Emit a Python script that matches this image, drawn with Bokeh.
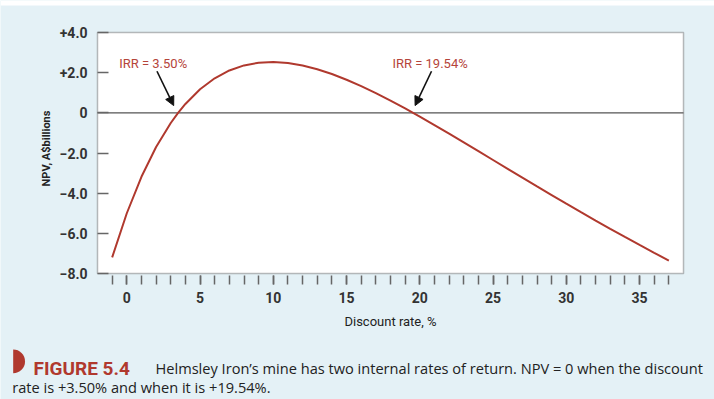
import math
from bokeh.plotting import figure
from bokeh.models import FixedTicker, Label, Arrow, NormalHead, Range1d, BoxAnnotation
from bokeh.embed import file_html
from bokeh.resources import INLINE

# Discount rate (%) and NPV (A$ billions)
rates = [-1, 0, 1, 2, 3, 3.5, 4, 5, 6, 7, 8, 9, 10, 11, 12, 13, 14, 15, 16, 17, 18, 19,
         19.54, 20, 21, 22, 23, 24, 25, 26, 27, 28, 29, 30, 31, 32, 33, 34, 35, 36, 37]
npv = [-7.199, -5.000, -3.184, -1.701, -0.505, 0.0, 0.441, 1.174, 1.721, 2.109, 2.361,
       2.496, 2.530, 2.479, 2.354, 2.169, 1.931, 1.649, 1.331, 0.984, 0.611, 0.219,
       0.0, -0.188, -0.608, -1.036, -1.470, -1.908, -2.348, -2.788, -3.227, -3.664,
       -4.096, -4.525, -4.948, -5.366, -5.777, -6.182, -6.580, -6.970, -7.354]

x_major = [0, 5, 10, 15, 20, 25, 30, 35]
x_minor = list(range(-1, 38))
y_ticks = [-8, -6, -4, -2, 0, 2, 4]
y_labels = {4: "+4.0", 2: "+2.0", 0: "0", -2: "\u22122.0", -4: "\u22124.0",
            -6: "\u22126.0", -8: "\u22128.0"}

x_title = "Discount rate, %"
y_title = "NPV, A$billions"
irr_labels = ["IRR = 3.50%", "IRR = 19.54%"]

caption_fig = "FIGURE 5.4"
caption_line1 = "Helmsley Iron\u2019s mine has two internal rates of return. NPV = 0 when the discount"
caption_line2 = "rate is +3.50% and when it is +19.54%."

BG = "#e4f1f6"
RED = "#b0392e"
FONT = "Roboto"
CAP_FONT = "Open Sans"

# Axis limits of the plotting box and where that box sits on the canvas
X_LO, X_HI, Y_LO, Y_HI = -2, 38, -8, 4
W, H = 714, 399
FL, FR, FT, FB = 97, 683, 32, 273
sx = (FR - FL) / (X_HI - X_LO)
sy = (FB - FT) / (Y_HI - Y_LO)
x_start, x_end = X_LO - FL / sx, X_HI + (W - FR) / sx
y_start, y_end = Y_LO - (H - FB) / sy, Y_HI + FT / sy


def X(px):
    return x_start + px / sx


def Y(py):
    return y_end - py / sy


p = figure(width=W, height=H, x_range=Range1d(x_start, x_end), y_range=Range1d(y_start, y_end),
           output_backend="svg", toolbar_location=None, min_border=0)
p.background_fill_color = BG
p.border_fill_color = BG
p.outline_line_color = None
p.grid.visible = False

# white strip at the very top and the white plotting box
p.add_layout(BoxAnnotation(bottom=Y(5), fill_color="white", fill_alpha=1.0, line_color=None,
                           level="underlay"))
p.add_layout(BoxAnnotation(left=X_LO, right=X_HI, bottom=Y_LO, top=Y_HI, fill_color="white",
                           fill_alpha=1.0, line_color="#222222", line_width=1.5,
                           level="underlay"))

xa = p.xaxis[0]
xa.fixed_location = Y(FB + 2)
xa.ticker = FixedTicker(ticks=x_major, minor_ticks=x_minor)
xa.axis_line_color = None
xa.major_tick_in = 0
xa.major_tick_out = 9
xa.minor_tick_in = 0
xa.minor_tick_out = 9
xa.major_tick_line_color = "#666666"
xa.minor_tick_line_color = "#666666"
xa.major_tick_line_width = 1.5
xa.minor_tick_line_width = 1.5
xa.major_label_text_font = FONT
xa.major_label_text_font_size = "14px"
xa.major_label_text_font_style = "bold"
xa.major_label_text_color = "#333333"
xa.major_label_standoff = 7

ya = p.yaxis[0]
ya.fixed_location = X_LO
ya.ticker = FixedTicker(ticks=y_ticks, minor_ticks=[])
ya.major_label_overrides = y_labels
ya.axis_line_color = None
ya.major_tick_in = 11
ya.major_tick_out = 0
ya.major_tick_line_color = "#666666"
ya.major_tick_line_width = 1.5
ya.major_label_text_font = FONT
ya.major_label_text_font_size = "14px"
ya.major_label_text_font_style = "bold"
ya.major_label_text_color = "#333333"
ya.major_label_standoff = 10

# axis titles, centred on the plotting box
p.add_layout(Label(x=(X_LO + X_HI) / 2, y=Y(321), text=x_title, text_align="center",
                   text_baseline="middle", text_font=FONT, text_font_size="13px",
                   text_color="#222222"))
p.add_layout(Label(x=X(46), y=Y(148), text=y_title, text_align="center", angle=math.pi / 2,
                   text_baseline="middle", text_font=FONT, text_font_size="11px",
                   text_font_style="bold", text_color="#222222"))

# zero line across the plotting box
p.segment(x0=[X_LO], y0=[0], x1=[X_HI], y1=[0], line_color="#555555", line_width=1.3)

p.line(rates, npv, line_color=RED, line_width=2)

# IRR annotations with arrows pointing at the zero crossings
label_pos = [(1.8, 2.45), (20.7, 2.45)]
arrow_start = [(2.06, 2.07), (20.8, 2.07)]
arrow_end = [(3.2, 0.36), (19.68, 0.36)]
for txt, (lx, ly), (ax0, ay0), (ax1, ay1) in zip(irr_labels, label_pos, arrow_start, arrow_end):
    p.add_layout(Label(x=lx, y=ly, text=txt, text_align="center", text_baseline="middle",
                       text_color="#b5443a", text_font=FONT, text_font_size="13px"))
    p.add_layout(Arrow(end=NormalHead(size=9, fill_color="#111111", line_color="#111111"),
                       x_start=ax0, y_start=ay0, x_end=ax1, y_end=ay1,
                       line_color="#111111", line_width=1.6))

# Caption
p.wedge(x=[X(12.7)], y=[Y(360.9)], radius=11.8, radius_units="screen",
        start_angle=-math.pi / 2, end_angle=math.pi / 2, fill_color=RED, line_color=None)
p.add_layout(Label(x=X(33), y=Y(367.7), text=caption_fig, text_color=RED, text_font=FONT,
                   text_font_size="19px", text_font_style="bold", text_baseline="alphabetic"))
p.add_layout(Label(x=X(155), y=Y(367.7), text=caption_line1, text_color="#222222",
                   text_font=CAP_FONT, text_font_size="14.6px", text_baseline="alphabetic"))
p.add_layout(Label(x=X(11.7), y=Y(386.7), text=caption_line2, text_color="#222222",
                   text_font=CAP_FONT, text_font_size="14.6px", text_baseline="alphabetic"))

open("out.html", "w").write(file_html(p, INLINE))
